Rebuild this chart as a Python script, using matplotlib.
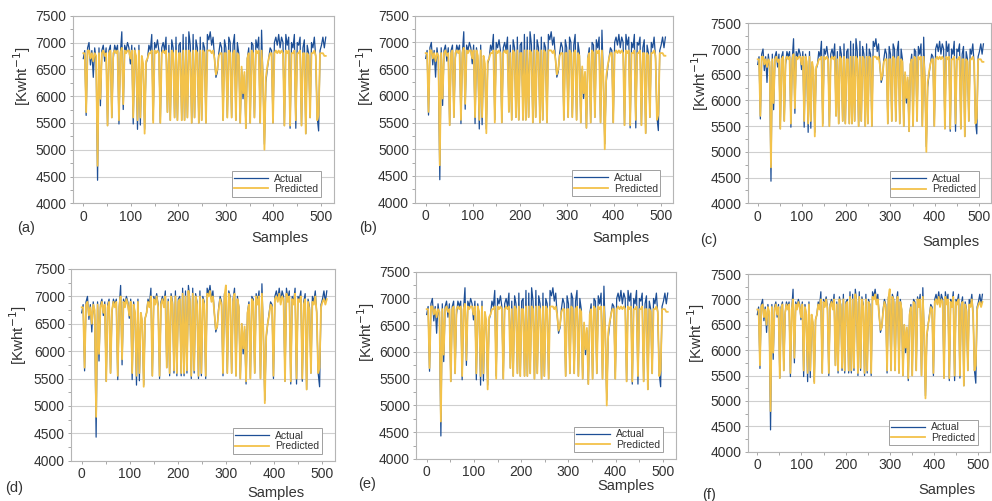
"""
Actual vs predicted load for six models, one panel each (a-f).
"""

import numpy as np
import matplotlib
matplotlib.use('Agg')
import matplotlib.pyplot as plt
from matplotlib.ticker import MultipleLocator

plt.rcParams['font.family'] = ['Liberation Sans', 'DejaVu Sans']

# one value every 3 samples (0, 3, ..., 510)
samples = list(range(0, 511, 3))

actual = [
    6700, 6850, 5640, 6900, 7000, 6580, 6850, 6350, 6900, 6650,
    4430, 6900, 5820, 6850, 6950, 6650, 6900, 5450, 6850, 6950,
    5600, 6700, 6950, 6850, 6950, 5480, 6800, 7200, 5750, 6950,
    6850, 7000, 6900, 6600, 6950, 5480, 6900, 6650, 5380, 6950,
    5460, 6700, 6500, 5380, 6600, 6700, 6950, 6850, 7150, 5550,
    7000, 6900, 7050, 6850, 5500, 6900, 7000, 6850, 7100, 5700,
    6950, 5550, 7050, 6900, 5600, 7100, 5550, 6950, 7000, 5550,
    7150, 5550, 7100, 5600, 7200, 6950, 5500, 7150, 5600, 7050,
    6900, 5500, 7100, 5550, 7000, 6900, 5500, 7150, 7050, 7200,
    6950, 7100, 6700, 6350, 6450, 6800, 7000, 6900, 5550, 7050,
    6900, 5600, 7100, 7000, 5600, 6950, 7150, 5550, 7000, 6800,
    5500, 6500, 5950, 6400, 5400, 6700, 6900, 5500, 7000, 6950,
    5600, 7050, 6900, 7100, 5500, 7230, 6300, 5100, 6250, 6500,
    6700, 6900, 6850, 5500, 7000, 7100, 6950, 7150, 6900, 7100,
    7000, 5450, 7150, 6950, 7100, 5400, 7000, 6900, 7150, 5400,
    7000, 6950, 7100, 5450, 6900, 7050, 5300, 6950, 6800, 5600,
    7000, 6900, 7100, 6700, 5600, 5350, 6850, 6950, 7100, 6900,
    7100,
]

# models whose prediction stays near a flat level (panels a, b, c, e)
pred_flat = [
    6800, 6800, 5700, 6850, 6850, 6700, 6800, 6650, 6800, 6750,
    4700, 6800, 5950, 6800, 6850, 6750, 6800, 5450, 6800, 6850,
    5600, 6800, 6850, 6800, 6850, 5550, 6800, 6900, 5850, 6850,
    6800, 6850, 6850, 6700, 6850, 5600, 6850, 6750, 5550, 6850,
    5600, 6750, 6600, 5300, 6650, 6700, 6800, 6800, 6850, 5500,
    6850, 6800, 6850, 6800, 5500, 6800, 6850, 6800, 6850, 5700,
    6800, 5550, 6850, 6800, 5600, 6850, 5550, 6800, 6800, 5550,
    6850, 5550, 6850, 5600, 6850, 6800, 5500, 6850, 5600, 6850,
    6800, 5500, 6850, 5550, 6850, 6800, 5500, 6850, 6850, 6850,
    6800, 6850, 6700, 6400, 6500, 6750, 6800, 6800, 5550, 6800,
    6800, 5600, 6850, 6800, 5600, 6800, 6850, 5550, 6800, 6750,
    5500, 6550, 6050, 6450, 5400, 6700, 6800, 5500, 6850, 6800,
    5600, 6850, 6800, 6850, 5500, 6850, 6350, 5000, 6350, 6550,
    6700, 6800, 6800, 5500, 6800, 6850, 6800, 6850, 6800, 6850,
    6800, 5450, 6850, 6800, 6850, 5450, 6800, 6800, 6850, 5550,
    6800, 6800, 6850, 5450, 6800, 6800, 5300, 6800, 6750, 5600,
    6800, 6800, 6850, 6750, 5550, 5650, 6800, 6800, 6800, 6750,
    6750,
]

# models whose prediction follows the actual level (panels d, f)
pred_follow = [
    6800, 6800, 5700, 6850, 6900, 6650, 6800, 6500, 6850, 6750,
    4800, 6850, 5950, 6800, 6900, 6700, 6850, 5450, 6800, 6900,
    5600, 6750, 6900, 6800, 6900, 5550, 6800, 7000, 5850, 6900,
    6800, 6950, 6850, 6650, 6900, 5600, 6850, 6700, 5550, 6900,
    5600, 6700, 6550, 5350, 6600, 6700, 6900, 6800, 7000, 5550,
    6950, 6850, 7000, 6800, 5550, 6850, 6950, 6800, 7000, 5700,
    6900, 5600, 7000, 6850, 5650, 7000, 5600, 6900, 6950, 5600,
    7050, 5600, 7000, 5650, 7100, 6900, 5550, 7050, 5650, 7000,
    6850, 5550, 7000, 5600, 6950, 6850, 5550, 7050, 7000, 7100,
    6900, 7000, 6700, 6400, 6450, 6750, 6950, 6850, 5600, 7000,
    7200, 5600, 7050, 6950, 5600, 6900, 7050, 5550, 6950, 6800,
    5500, 6500, 6050, 6450, 5450, 6700, 6850, 5500, 6950, 6900,
    5600, 7000, 6850, 7000, 5500, 7050, 6350, 5050, 6300, 6500,
    6650, 6850, 6800, 5550, 6950, 7000, 6900, 7050, 6850, 7000,
    6950, 5450, 7050, 6900, 7000, 5450, 6950, 6850, 7050, 5500,
    6950, 6900, 7000, 5500, 6850, 6950, 5300, 6900, 6750, 5600,
    6900, 6850, 7000, 6700, 5600, 5700, 6800, 6900, 6950, 6850,
    6950,
]

panel_labels = ['(a)', '(b)', '(c)', '(d)', '(e)', '(f)']
panel_preds = [pred_flat, pred_flat, pred_flat, pred_follow, pred_flat, pred_follow]

W, H = 992, 501
XLIM = (-22, 527)

# pixel layout of each panel: x of sample 0, x of sample 500, y top, y bottom
boxes = [
    (83.3, 321.0, 15.7, 203.3),
    (425.7, 660.7, 15.7, 202.7),
    (757.7, 979.0, 23.3, 203.3),
    (81.7, 322.0, 269.0, 460.7),
    (426.7, 663.0, 271.7, 459.0),
    (757.3, 978.0, 274.0, 451.7),
]
# (x, y) of panel letter, "Samples" centre, y label centre
letter_pos = [(17, 228), (359, 228), (700, 240), (5, 488), (358, 484), (702, 495)]
xlabel_pos = [(280, 238), (621, 238), (951, 242), (276, 493), (626, 486), (947, 490)]
ylabel_pos = [(22, 76), (365, 76), (700, 81), (18, 335), (366, 332), (696, 333)]

c_actual = '#1d4f96'
c_pred = '#f3c24a'
c_text = '#333333'

fig = plt.figure(figsize=(W / 100, H / 100), dpi=100)

for i in range(6):
    x0, x500, ytop, ybot = boxes[i]
    scale = (x500 - x0) / 500
    left = x0 + XLIM[0] * scale
    right = x0 + XLIM[1] * scale
    ax = fig.add_axes([left / W, 1 - ybot / H, (right - left) / W, (ybot - ytop) / H])

    ax.plot(samples, actual, color=c_actual, linewidth=0.9, label='Actual')
    ax.plot(samples, panel_preds[i], color=c_pred, linewidth=1.3, label='Predicted')

    ax.set_xlim(*XLIM)
    ax.set_ylim(4000, 7500)
    ax.xaxis.set_major_locator(MultipleLocator(100))
    ax.xaxis.set_minor_locator(MultipleLocator(50))
    ax.yaxis.set_major_locator(MultipleLocator(500))
    ax.yaxis.set_minor_locator(MultipleLocator(250))
    ax.grid(axis='y', which='major', color='#cfcfcf', linewidth=0.8)
    ax.set_axisbelow(True)
    ax.tick_params(which='both', length=2.5, width=0.6, color='#9a9a9a',
                   labelsize=10, labelcolor=c_text, pad=2)
    for sp in ax.spines.values():
        sp.set_color('#b5b5b5')
        sp.set_linewidth(0.8)

    leg = ax.legend(loc='lower right', bbox_to_anchor=(0.95, 0.035), fontsize=7.5,
                    frameon=True, fancybox=False, framealpha=1, edgecolor='#a0a0a0',
                    handlelength=3.2, handletextpad=0.6, labelspacing=0.05,
                    borderpad=0.25, borderaxespad=0)
    leg.get_frame().set_linewidth(0.7)
    for t in leg.get_texts():
        t.set_color(c_text)

    lx, ly = letter_pos[i]
    fig.text(lx / W, 1 - ly / H, panel_labels[i], fontsize=10.5, color=c_text,
             ha='left', va='center')
    sx, sy = xlabel_pos[i]
    fig.text(sx / W, 1 - sy / H, 'Samples', fontsize=10.5, color=c_text,
             ha='center', va='center')
    yx, yy = ylabel_pos[i]
    fig.text(yx / W, 1 - yy / H, '[Kwht$^{-1}$]', fontsize=11, color=c_text,
             ha='center', va='center', rotation=90)

fig.savefig('out.png', dpi=100)
